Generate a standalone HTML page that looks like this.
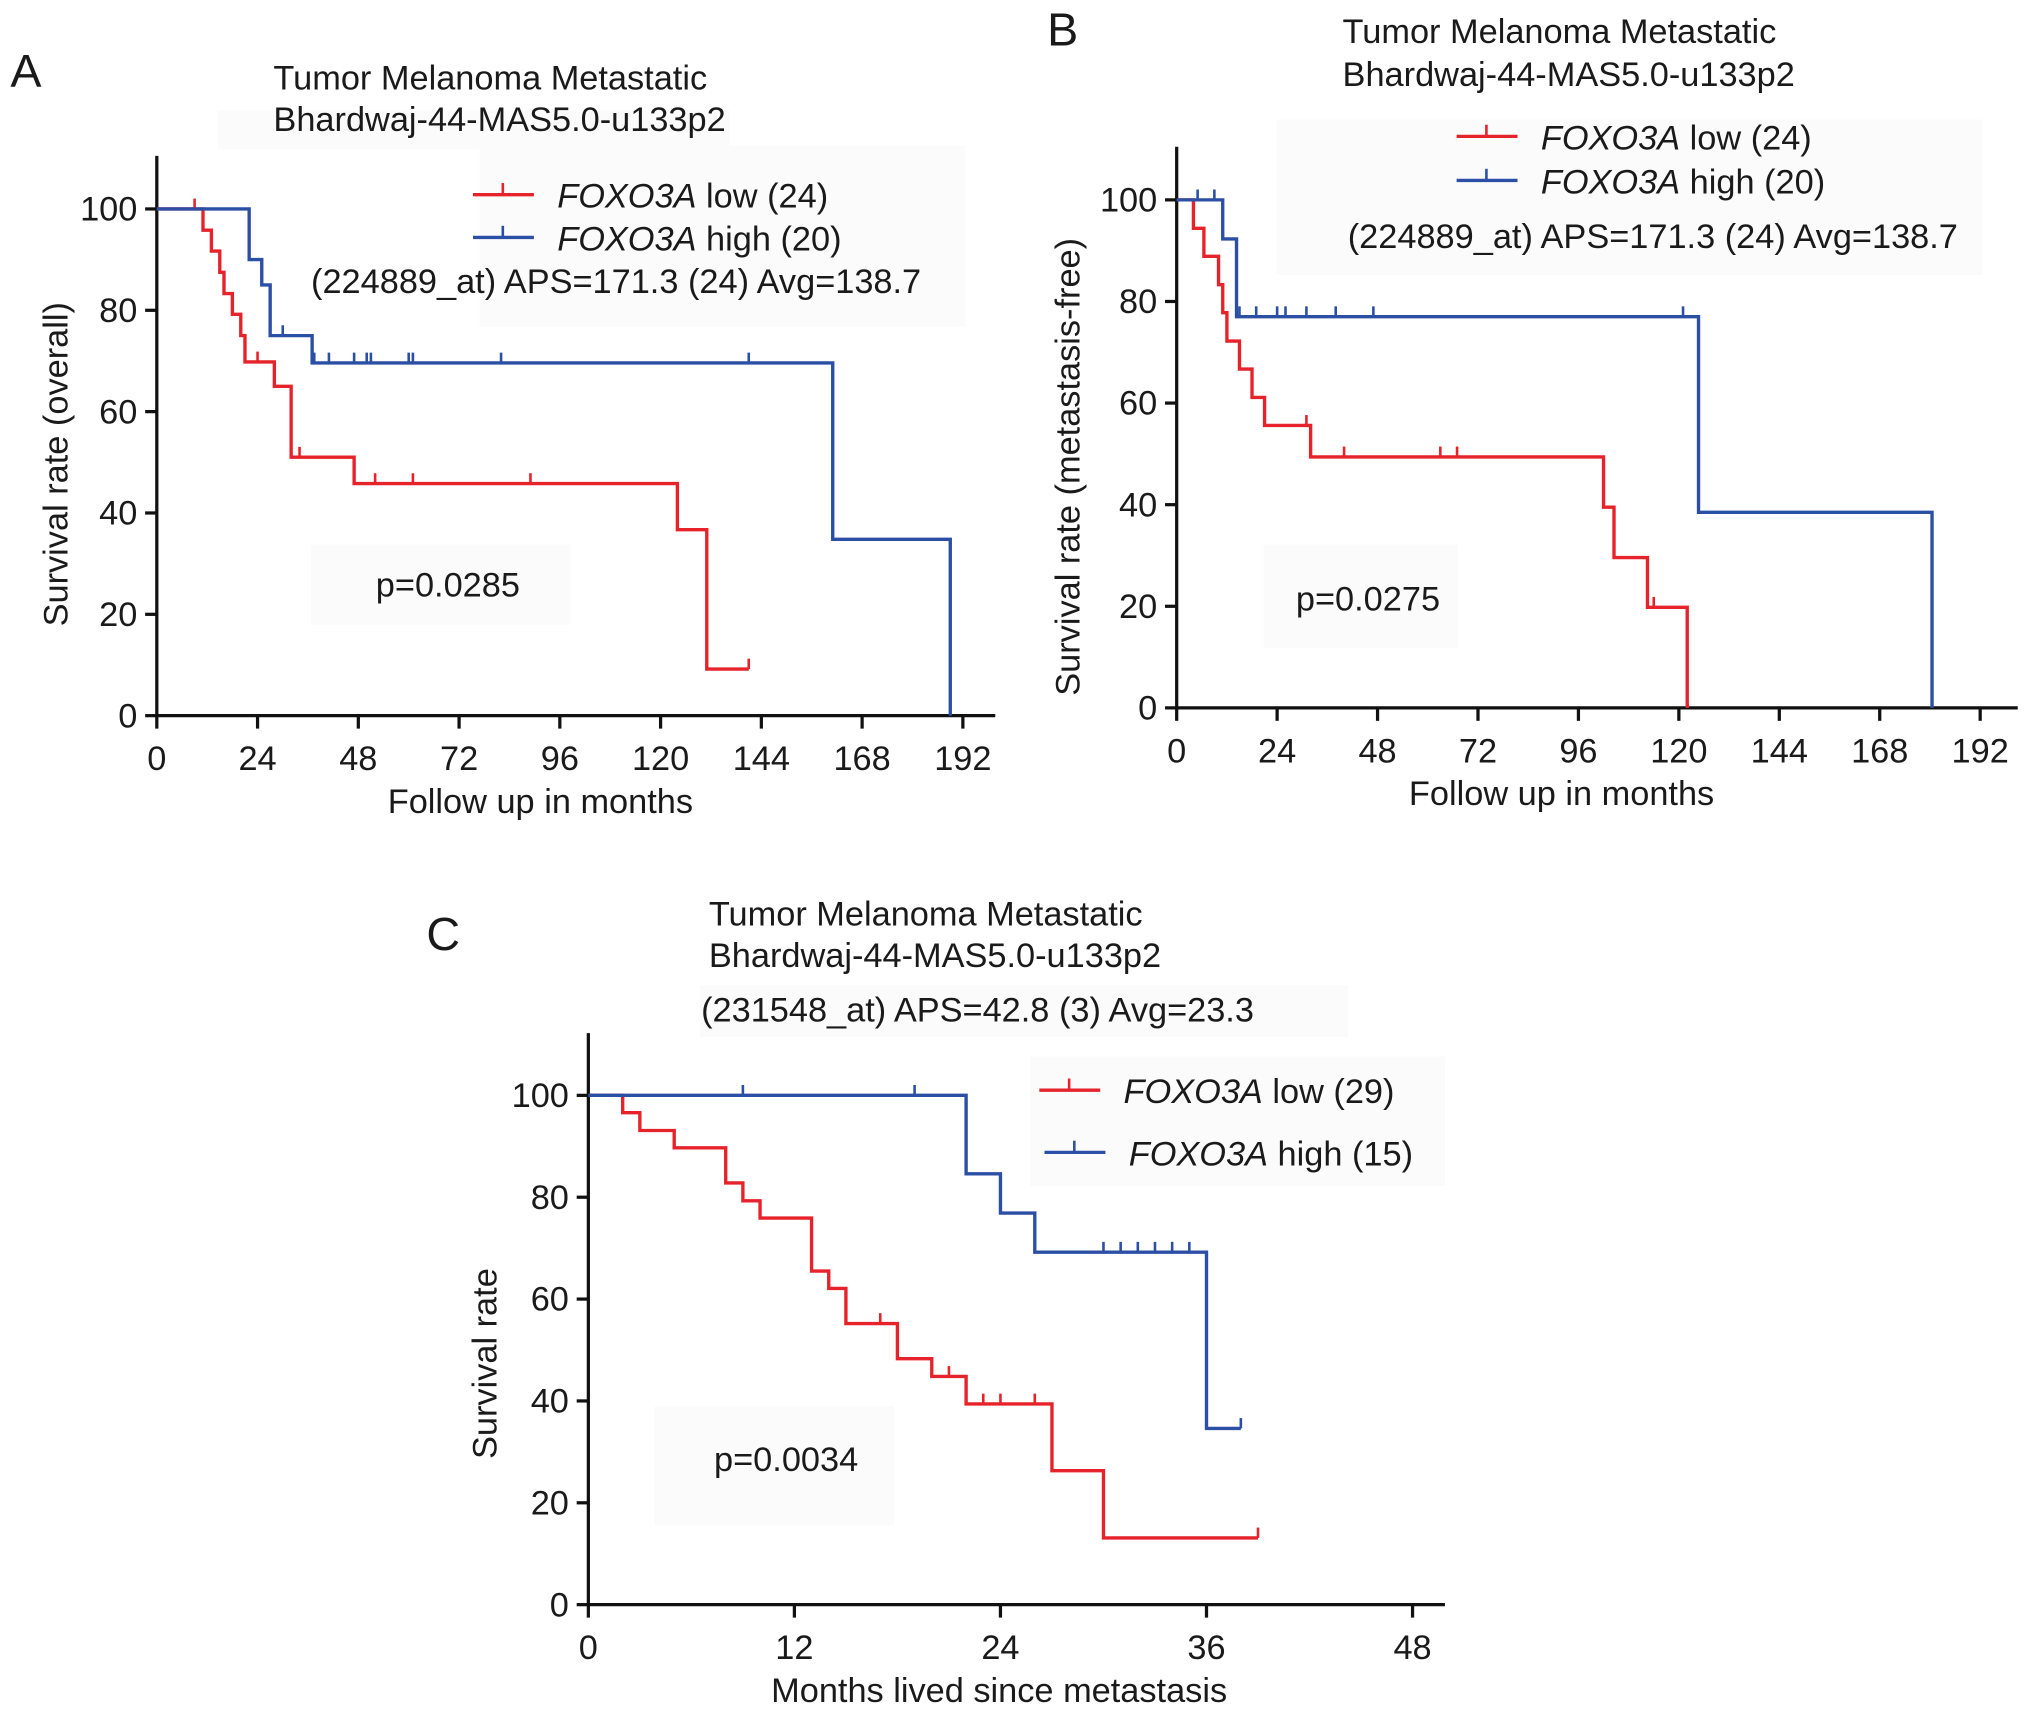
<!DOCTYPE html>
<html><head><meta charset="utf-8"><style>
html,body{margin:0;padding:0;background:#fff}
svg{display:block}
text{font-family:"Liberation Sans",Arial,sans-serif;fill:#1a1a1a}
</style></head><body>
<svg id="fig" width="2032" height="1719" viewBox="0 0 1568 1326" xmlns="http://www.w3.org/2000/svg">
<rect width="1568" height="1326" fill="#fff"/>
<g id="root"></g>
</svg>
<script>
// ---- Panel A data (overall survival) ----
const aLowT = [0, 11, 13, 15, 16, 18, 20, 21, 28, 32, 47, 124, 131];
const aLowV = [100, 95.8, 91.7, 87.5, 83.3, 79.2, 75, 69.8, 65, 51, 45.8, 36.7, 9.2];
const aLowEnd = 141;
const aLowCens = [9, 24, 34, 52, 61, 89, 141];
const aHighT = [0, 22, 25, 27, 37, 161, 189];
const aHighV = [100, 90, 85, 75, 69.6, 34.8, 0];
const aHighEnd = 189;
const aHighCens = [30, 37.5, 41, 47, 50, 51, 60, 61, 82, 141];
// ---- Panel B data (metastasis-free) ----
const bLowT = [0, 4, 6.5, 10, 11, 12, 15, 18, 21, 32, 102, 104.5, 112.5, 122];
const bLowV = [100, 94.4, 88.9, 83.3, 77.8, 72.2, 66.7, 61.1, 55.6, 49.4, 39.5, 29.6, 19.8, 0];
const bLowEnd = 122;
const bLowCens = [31, 40, 63, 67, 114];
const bHighT = [0, 11, 14.3, 124.7, 180.5];
const bHighV = [100, 92.3, 77, 38.5, 0];
const bHighEnd = 180.5;
const bHighCens = [5, 9, 15, 19, 24, 26, 31, 38, 47, 121];
// ---- Panel C data (since metastasis) ----
const cLowT = [0, 2, 3, 5, 8, 9, 10, 13, 14, 15, 18, 20, 22, 27, 30];
const cLowV = [100, 96.6, 93.1, 89.7, 82.8, 79.3, 75.9, 65.5, 62.1, 55.2, 48.3, 44.8, 39.4, 26.3, 13.1];
const cLowEnd = 39;
const cLowCens = [17, 21, 23, 24, 26, 39];
const cHighT = [0, 22, 24, 26, 36];
const cHighV = [100, 84.6, 76.9, 69.2, 34.6];
const cHighEnd = 38;
const cHighCens = [9, 19, 30, 31, 32, 33, 34, 35, 38];
const yTicks = [0, 20, 40, 60, 80, 100];
const abTicks = [0, 24, 48, 72, 96, 120, 144, 168, 192];
const cTicks = [0, 12, 24, 36, 48];

const NS = "http://www.w3.org/2000/svg";
const root = document.getElementById('root');
const RED = "#e6232b", BLUE = "#2c4fa6";
const FS = 26.5;
function mk(tag, attrs, parent, txt){
  const e = document.createElementNS(NS, tag);
  for (const k in attrs) e.setAttribute(k, attrs[k]);
  if (txt !== undefined) e.textContent = txt;
  (parent || root).appendChild(e);
  return e;
}
function panel(cfg){
  const g = mk('g', {});
  
  
  const sx = m => cfg.x0 + m * (cfg.x1 - cfg.x0) / cfg.xmax;
  const sy = v => cfg.y0 - v * (cfg.y0 - cfg.y100) / 100;
  const ya = mk('line', {x1: cfg.x0, y1: cfg.top, x2: cfg.x0, y2: cfg.y0 + 1, stroke: '#111', 'stroke-width': 2.5}, g);
  
  
  const xa = mk('line', {x1: cfg.x0 - 1, y1: cfg.y0, x2: cfg.right, y2: cfg.y0, stroke: '#111', 'stroke-width': 2.5}, g);
  
  
  yTicks.forEach(v => {
    mk('line', {x1: cfg.x0 - 9, y1: sy(v), x2: cfg.x0, y2: sy(v), stroke: '#111', 'stroke-width': 2.5}, g);
    const t = mk('text', {x: cfg.x0 - 15, y: sy(v) + 9, 'font-size': FS, 'text-anchor': 'end'}, g, String(v));
    
    
  });
  cfg.ticks.forEach(m => {
    mk('line', {x1: sx(m), y1: cfg.y0, x2: sx(m), y2: cfg.y0 + 10, stroke: '#111', 'stroke-width': 2.5}, g);
    const t = mk('text', {x: sx(m), y: cfg.y0 + 42, 'font-size': FS, 'text-anchor': 'middle'}, g, String(m));
    
    
  });
  const xt = mk('text', {x: cfg.xtx, y: cfg.y0 + 75, 'font-size': FS, 'text-anchor': 'middle'}, g, cfg.xtitle);
  
  
  const yt = mk('text', {x: 0, y: 0, 'font-size': FS, 'text-anchor': 'middle', transform: `translate(${cfg.ytx},${cfg.yty}) rotate(-90)`}, g, cfg.ytitle);
  
  
  cfg.series.forEach(s => {
    let d = `M${sx(s.t[0])},${sy(s.v[0])}`;
    for (let i = 1; i < s.t.length; i++) d += `H${sx(s.t[i])}V${sy(s.v[i])}`;
    d += `H${sx(s.end)}`;
    const p = mk('path', {d: d, fill: 'none', stroke: s.color, 'stroke-width': 2.6}, g);
    
    
    s.cens.forEach(c => {
      let v = s.v[0];
      for (let i = 0; i < s.t.length; i++) if (s.t[i] <= c) v = s.v[i];
      const m = mk('line', {x1: sx(c), y1: sy(v) - 8, x2: sx(c), y2: sy(v), stroke: s.color, 'stroke-width': 2}, g);
      
      
    });
  });
  cfg.texts.forEach(tx => {
    const t = mk('text', {x: tx.x, y: tx.y, 'font-size': tx.fs || FS}, g, tx.s);
    
    
  });
  cfg.legend.forEach(l => {
    const lg = mk('g', {}, g);
    
    
    mk('line', {x1: l.x, y1: l.y, x2: l.x + 47, y2: l.y, stroke: l.color, 'stroke-width': 2.6}, lg);
    mk('line', {x1: l.x + 23, y1: l.y - 9, x2: l.x + 23, y2: l.y, stroke: l.color, 'stroke-width': 2}, lg);
    const t = mk('text', {x: l.x + 65, y: l.y + 10, 'font-size': FS}, lg);
    mk('tspan', {'font-style': 'italic'}, t, 'FOXO3A');
    mk('tspan', {}, t, ' ' + l.s);
  });
}
[[168,85,395,30],[370,112,375,140],[240,420,200,62],[985,92,545,120],[975,420,150,80],[540,760,500,40],[795,815,320,100],[505,1085,185,92]].forEach(r=>{
  const b = mk('rect', {x:r[0], y:r[1], width:r[2], height:r[3], fill:'#fbfbfb'});
  
  
});
panel({name:'panel-a', x0:121, x1:743, xmax:192, y0:552, y100:161, top:120, right:768, ticks:abTicks,
  xtitle:'Follow up in months', xtx:417, ytitle:'Survival rate (overall)', ytx:52, yty:358,
  series:[{name:'low', color:RED, t:aLowT, v:aLowV, end:aLowEnd, cens:aLowCens},
          {name:'high', color:BLUE, t:aHighT, v:aHighV, end:aHighEnd, cens:aHighCens}],
  texts:[{s:'A', x:8, y:67, fs:36, n:'panel-label-a'},
         {s:'Tumor Melanoma Metastatic', x:211, y:69, n:'panel-title-a'},
         {s:'Bhardwaj-44-MAS5.0-u133p2', x:211, y:101, n:'panel-subtitle-a'},
         {s:'(224889_at) APS=171.3 (24) Avg=138.7', x:240, y:226, n:'probe-annotation-a'},
         {s:'p=0.0285', x:290, y:460, n:'p-value-a'}],
  legend:[{x:365, y:150, color:RED, s:'low (24)'},{x:365, y:183, color:BLUE, s:'high (20)'}]});
panel({name:'panel-b', x0:908, x1:1528, xmax:192, y0:546, y100:154, top:113, right:1557, ticks:abTicks,
  xtitle:'Follow up in months', xtx:1205, ytitle:'Survival rate (metastasis-free)', ytx:833, yty:360,
  series:[{name:'low', color:RED, t:bLowT, v:bLowV, end:bLowEnd, cens:bLowCens},
          {name:'high', color:BLUE, t:bHighT, v:bHighV, end:bHighEnd, cens:bHighCens}],
  texts:[{s:'B', x:808, y:35, fs:36, n:'panel-label-b'},
         {s:'Tumor Melanoma Metastatic', x:1036, y:33, n:'panel-title-b'},
         {s:'Bhardwaj-44-MAS5.0-u133p2', x:1036, y:66, n:'panel-subtitle-b'},
         {s:'(224889_at) APS=171.3 (24) Avg=138.7', x:1040, y:191, n:'probe-annotation-b'},
         {s:'p=0.0275', x:1000, y:471, n:'p-value-b'}],
  legend:[{x:1124, y:105, color:RED, s:'low (24)'},{x:1124, y:139, color:BLUE, s:'high (20)'}]});
panel({name:'panel-c', x0:454, x1:1090, xmax:48, y0:1238, y100:845, top:797, right:1115, ticks:cTicks,
  xtitle:'Months lived since metastasis', xtx:771, ytitle:'Survival rate', ytx:383, yty:1052,
  series:[{name:'low', color:RED, t:cLowT, v:cLowV, end:cLowEnd, cens:cLowCens},
          {name:'high', color:BLUE, t:cHighT, v:cHighV, end:cHighEnd, cens:cHighCens}],
  texts:[{s:'C', x:329, y:733, fs:36, n:'panel-label-c'},
         {s:'Tumor Melanoma Metastatic', x:547, y:714, n:'panel-title-c'},
         {s:'Bhardwaj-44-MAS5.0-u133p2', x:547, y:746, n:'panel-subtitle-c'},
         {s:'(231548_at) APS=42.8 (3) Avg=23.3', x:541, y:788, n:'probe-annotation-c'},
         {s:'p=0.0034', x:551, y:1135, n:'p-value-c'}],
  legend:[{x:802, y:841, color:RED, s:'low (29)'},{x:806, y:889, color:BLUE, s:'high (15)'}]});
</script>
</body></html>
